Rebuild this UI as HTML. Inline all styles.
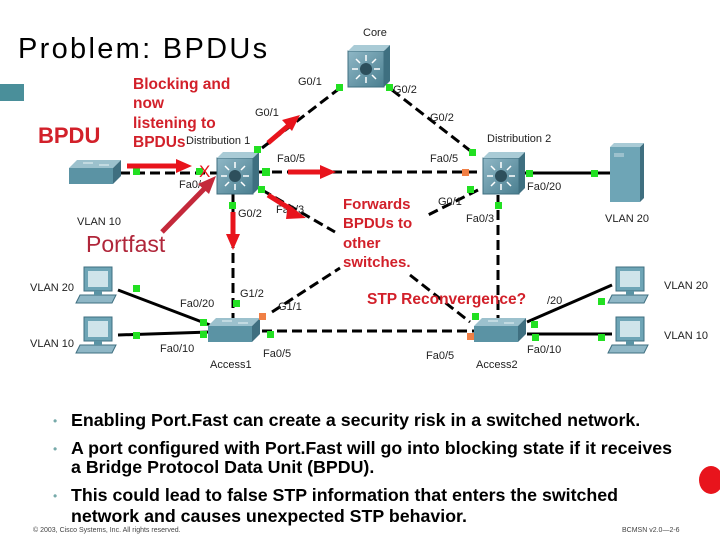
<!DOCTYPE html>
<html><head><meta charset="utf-8"><style>
body{margin:0;width:720px;height:540px;background:#fff;overflow:hidden;font-family:"Liberation Sans",sans-serif}
</style></head><body>
<svg width="720" height="540" xmlns="http://www.w3.org/2000/svg" font-family="Liberation Sans, sans-serif">
<defs>
<linearGradient id="sw" x1="0" y1="0" x2="1" y2="1"><stop offset="0" stop-color="#8fb7c6"/><stop offset="1" stop-color="#4a7f90"/></linearGradient>
<g id="l3"><rect x="-20" y="-16" width="36" height="36" fill="url(#sw)" stroke="#3f6f80"/><polygon points="-20,-16 -14,-22 22,-22 16,-16" fill="#a9cbd6"/><polygon points="16,-16 22,-22 22,14 16,20" fill="#3e6f80"/><circle cx="-2" cy="2" r="6" fill="#2d4f5c"/><g stroke="#fff" stroke-width="1.5"><line x1="-2" y1="-12" x2="-2" y2="-6"/><line x1="-2" y1="10" x2="-2" y2="16"/><line x1="-16" y1="2" x2="-10" y2="2"/><line x1="6" y1="2" x2="12" y2="2"/><line x1="-12" y1="-8" x2="-8" y2="-4"/><line x1="4" y1="8" x2="8" y2="12"/><line x1="8" y1="-8" x2="4" y2="-4"/><line x1="-8" y1="8" x2="-12" y2="12"/></g></g>
<g id="l2"><polygon points="-26,-4 -18,-12 26,-12 18,-4" fill="#9cc1cd"/><rect x="-26" y="-4" width="44" height="16" fill="#5b93a4"/><polygon points="18,-4 26,-12 26,4 18,12" fill="#3f6f80"/><g stroke="#e8f2f5" stroke-width="1"><line x1="-12" y1="-9" x2="-2" y2="-9"/><line x1="4" y1="-7" x2="14" y2="-7"/></g></g>
<g id="pc"><rect x="-14" y="-20" width="28" height="24" fill="#6ea5b6" stroke="#3f6f80"/><rect x="-10" y="-16" width="20" height="16" fill="#cfe4ea"/><polygon points="-18,8 18,8 14,16 -22,16" fill="#8fb7c6" stroke="#3f6f80"/><rect x="-4" y="4" width="8" height="4" fill="#5b93a4"/></g>
</defs>
<text x="18" y="58" font-size="29" letter-spacing="2.3" fill="#000">Problem: BPDUs</text>
<rect x="0" y="84" width="24" height="17" fill="#4a8f9a"/>
<g stroke="#000" stroke-width="3" fill="none" stroke-dasharray="10,5">
<line x1="340" y1="88" x2="262" y2="148"/>
<line x1="392" y1="90" x2="472" y2="152"/>
<line x1="257" y1="172" x2="480" y2="172"/>
<line x1="120" y1="173" x2="218" y2="173"/>
<line x1="233" y1="193" x2="233" y2="318"/>
<line x1="262" y1="190" x2="335" y2="232"/>
<line x1="410" y1="275" x2="470" y2="322"/>
<line x1="272" y1="312" x2="340" y2="268"/>
<line x1="478" y1="190" x2="428" y2="215"/>
<line x1="498" y1="195" x2="498" y2="318"/>
<line x1="262" y1="331" x2="475" y2="331"/>
</g>
<g stroke="#000" stroke-width="3">
<line x1="523" y1="173" x2="610" y2="173"/>
<line x1="118" y1="290" x2="210" y2="325"/>
<line x1="118" y1="335" x2="210" y2="332"/>
<line x1="527" y1="322" x2="612" y2="285"/>
<line x1="527" y1="334" x2="612" y2="334"/>
</g>
<use href="#l3" x="368" y="67"/>
<use href="#l3" x="237" y="174"/>
<use href="#l3" x="503" y="174"/>
<use href="#l2" x="95" y="172"/>
<use href="#l2" x="234" y="330"/>
<use href="#l2" x="500" y="330"/>
<g><rect x="610" y="147" width="30" height="55" fill="#6ea5b6"/><polygon points="640,147 644,143 644,198 640,202" fill="#3f6f80"/><polygon points="610,147 614,143 644,143 640,147" fill="#a9cbd6"/><rect x="614" y="153" width="10" height="4" fill="#9cc1cd"/></g>
<use href="#pc" x="98" y="287"/><use href="#pc" x="98" y="337"/>
<use href="#pc" x="630" y="287"/><use href="#pc" x="630" y="337"/>
<g fill="#22e022">
<rect x="336" y="84" width="7" height="7"/><rect x="386" y="84" width="7" height="7"/><rect x="254" y="146" width="7" height="7"/><rect x="262" y="168" width="8" height="8"/><rect x="196" y="168" width="7" height="7"/><rect x="133" y="168" width="7" height="7"/><rect x="258" y="186" width="7" height="7"/><rect x="229" y="202" width="7" height="7"/><rect x="469" y="149" width="7" height="7"/><rect x="467" y="186" width="7" height="7"/><rect x="526" y="170" width="7" height="7"/><rect x="591" y="170" width="7" height="7"/><rect x="495" y="202" width="7" height="7"/><rect x="133" y="285" width="7" height="7"/><rect x="133" y="332" width="7" height="7"/><rect x="200" y="319" width="7" height="7"/><rect x="200" y="331" width="7" height="7"/><rect x="233" y="300" width="7" height="7"/><rect x="267" y="331" width="7" height="7"/><rect x="472" y="313" width="7" height="7"/><rect x="531" y="321" width="7" height="7"/><rect x="532" y="334" width="7" height="7"/><rect x="598" y="298" width="7" height="7"/><rect x="598" y="334" width="7" height="7"/>
</g>
<g fill="#f07f45"><rect x="462" y="169" width="7" height="7"/><rect x="259" y="313" width="7" height="7"/><rect x="467" y="333" width="7" height="7"/></g>
<g font-size="11" fill="#222">
<text x="363" y="36">Core</text><text x="298" y="85">G0/1</text><text x="393" y="93">G0/2</text><text x="255" y="116">G0/1</text><text x="430" y="121">G0/2</text>
<text x="186" y="144">Distribution 1</text><text x="487" y="142">Distribution 2</text>
<text x="277" y="162">Fa0/5</text><text x="430" y="162">Fa0/5</text><text x="179" y="188">Fa0/</text><text x="527" y="190">Fa0/20</text>
<text x="238" y="217">G0/2</text><text x="276" y="213">Fa0/3</text><text x="438" y="205">G0/1</text><text x="466" y="222">Fa0/3</text>
<text x="77" y="225">VLAN 10</text><text x="605" y="222">VLAN 20</text>
<text x="30" y="291">VLAN 20</text><text x="30" y="347">VLAN 10</text><text x="664" y="289">VLAN 20</text><text x="664" y="339">VLAN 10</text>
<text x="240" y="297">G1/2</text><text x="278" y="310">G1/1</text><text x="180" y="307">Fa0/20</text><text x="160" y="352">Fa0/10</text><text x="263" y="357">Fa0/5</text><text x="210" y="368">Access1</text>
<text x="426" y="359">Fa0/5</text><text x="476" y="368">Access2</text><text x="527" y="353">Fa0/10</text><text x="547" y="304">/20</text>
</g>
<g stroke="#e8141c" stroke-width="5" fill="#e8141c">
<line x1="127" y1="166" x2="178" y2="166"/><polygon points="176,159 192,166 176,173" stroke="none"/>
<line x1="268" y1="143" x2="288" y2="126"/><polygon points="282,120 300,115 292,131" stroke="none"/>
<line x1="288" y1="172" x2="322" y2="172"/><polygon points="320,165 336,172 320,179" stroke="none"/>
<line x1="233" y1="212" x2="233" y2="236"/><polygon points="226,234 233,250 240,234" stroke="none"/>
<line x1="268" y1="195" x2="292" y2="210"/><polygon points="288,204 306,218 286,219" stroke="none"/>
</g>
<g stroke="#c4293b" stroke-width="5" fill="#c4293b"><line x1="162" y1="232" x2="205" y2="188"/><polygon points="198,184 216,176 209,194" stroke="none"/></g>
<text x="199" y="177" font-size="17" fill="#e8141c">X</text>
<g font-weight="bold" fill="#d2202a">
<text x="38" y="143" font-size="22">BPDU</text>
<text font-size="15.5"><tspan x="133" y="89">Blocking and</tspan><tspan x="133" y="108">now</tspan><tspan x="133" y="128">listening to</tspan><tspan x="133" y="147">BPDUs</tspan></text>
<text font-size="15"><tspan x="343" y="209">Forwards</tspan><tspan x="343" y="228">BPDUs to</tspan><tspan x="343" y="248">other</tspan><tspan x="343" y="267">switches.</tspan></text>
<text x="367" y="304" font-size="15.5">STP Reconvergence?</text>
</g>
<text x="86" y="252" font-size="23" fill="#b0263a">Portfast</text>
<g font-size="17.8" font-weight="bold" fill="#000">
<text x="71" y="426">Enabling Port.Fast can create a security risk in a switched network.</text>
<text x="71" y="454">A port configured with Port.Fast will go into blocking state if it receives</text>
<text x="71" y="473">a Bridge Protocol Data Unit (BPDU).</text>
<text x="71" y="501">This could lead to false STP information that enters the switched</text>
<text x="71" y="522">network and causes unexpected STP behavior.</text>
</g>
<g fill="#7aa" font-size="12"><text x="53" y="425">•</text><text x="53" y="453">•</text><text x="53" y="500">•</text></g>
<text x="33" y="532" font-size="7" fill="#444">© 2003, Cisco Systems, Inc. All rights reserved.</text>
<text x="622" y="532" font-size="7" fill="#444">BCMSN v2.0—2-6</text>
<ellipse cx="711" cy="480" rx="12" ry="14" fill="#e8141c"/>
</svg>
</body></html>
